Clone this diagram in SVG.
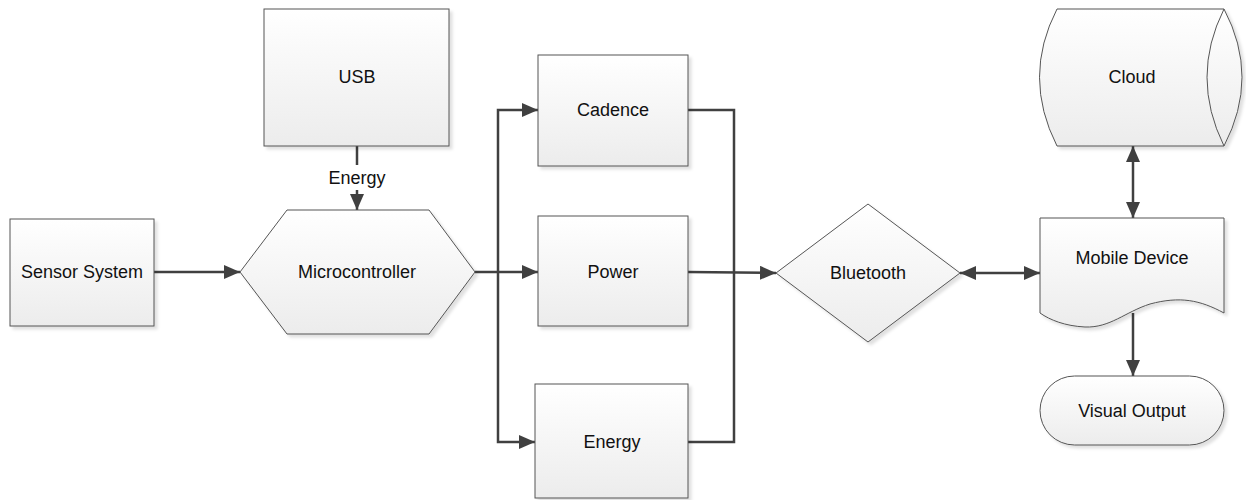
<svg xmlns="http://www.w3.org/2000/svg" width="1246" height="500" viewBox="0 0 1246 500">
<defs>
<linearGradient id="g" x1="0" y1="0" x2="0" y2="1">
<stop offset="0" stop-color="#ffffff"/>
<stop offset="1" stop-color="#ececec"/>
</linearGradient>
<filter id="sh" x="-10%" y="-10%" width="130%" height="130%">
<feDropShadow dx="3" dy="3" stdDeviation="1.5" flood-color="#000" flood-opacity="0.12"/>
</filter>
<marker id="ah" viewBox="0 0 16 14" refX="16" refY="7" markerWidth="16" markerHeight="14" markerUnits="userSpaceOnUse" orient="auto-start-reverse">
<path d="M0,0 L16,7 L0,14 Z" fill="#404040"/>
</marker>
</defs>
<style>
.n{fill:url(#g);stroke:#555;stroke-width:1;filter:url(#sh)}
.t{font-family:"Liberation Sans",Arial,sans-serif;font-size:18px;fill:#111;text-anchor:middle;dominant-baseline:central}
.c{fill:none;stroke:#404040;stroke-width:2.5}
</style>
<rect width="1246" height="500" fill="#fff"/>
<g id="connectors">
<line class="c" x1="154" y1="272" x2="240" y2="272" marker-end="url(#ah)"/>
<line class="c" x1="357" y1="146" x2="357" y2="165"/>
<line class="c" x1="357" y1="190" x2="357" y2="210" marker-end="url(#ah)"/>
<text class="t" x="357" y="178">Energy</text>
<line class="c" x1="475" y1="272" x2="538" y2="272" marker-end="url(#ah)"/>
<polyline class="c" points="498,272 498,110 538,110" marker-end="url(#ah)"/>
<polyline class="c" points="498,272 498,442 535,442" marker-end="url(#ah)"/>
<polyline class="c" points="688,110 734,110 734,442 688,442"/>
<line class="c" x1="688" y1="272" x2="776" y2="273" marker-end="url(#ah)"/>
<line class="c" x1="960" y1="273" x2="1040" y2="273" marker-start="url(#ah)" marker-end="url(#ah)"/>
<line class="c" x1="1133" y1="146" x2="1133" y2="218" marker-start="url(#ah)" marker-end="url(#ah)"/>
<line class="c" x1="1133" y1="313" x2="1133" y2="376" marker-end="url(#ah)"/>
</g>
<g id="usb">
<rect class="n" x="264" y="9" width="185" height="137"/>
<text class="t" x="357" y="77">USB</text>
</g>
<g id="sensor">
<rect class="n" x="10" y="219" width="144" height="107"/>
<text class="t" x="82" y="272">Sensor System</text>
</g>
<g id="micro">
<polygon class="n" points="240,272 287,210 429,210 475,272 429,334 287,334"/>
<text class="t" x="357" y="272">Microcontroller</text>
</g>
<g id="cadence">
<rect class="n" x="538" y="55" width="150" height="111"/>
<text class="t" x="613" y="110">Cadence</text>
</g>
<g id="power">
<rect class="n" x="538" y="216" width="150" height="110"/>
<text class="t" x="613" y="272">Power</text>
</g>
<g id="energy">
<rect class="n" x="535" y="384" width="153" height="114"/>
<text class="t" x="612" y="442">Energy</text>
</g>
<g id="bluetooth">
<polygon class="n" points="776,273 868,204 960,273 868,342"/>
<text class="t" x="868" y="273">Bluetooth</text>
</g>
<g id="cloud">
<path class="n" d="M1057,9 L1224,9 Q1260,77 1224,146 L1057,146 Q1022,77 1057,9 Z"/>
<path d="M1224,9 Q1190,77 1224,146" fill="none" stroke="#555" stroke-width="1"/>
<text class="t" x="1132" y="77">Cloud</text>
</g>
<g id="mobile">
<path class="n" d="M1040,218 L1224,218 L1224,313 C1200,300 1180,296 1150,304 C1125,312 1110,328 1085,327 C1065,326 1050,320 1040,313 Z"/>
<text class="t" x="1132" y="258">Mobile Device</text>
</g>
<g id="visual">
<rect class="n" x="1040" y="376" width="184" height="69" rx="34.5" ry="34.5"/>
<text class="t" x="1132" y="411">Visual Output</text>
</g>
</svg>
